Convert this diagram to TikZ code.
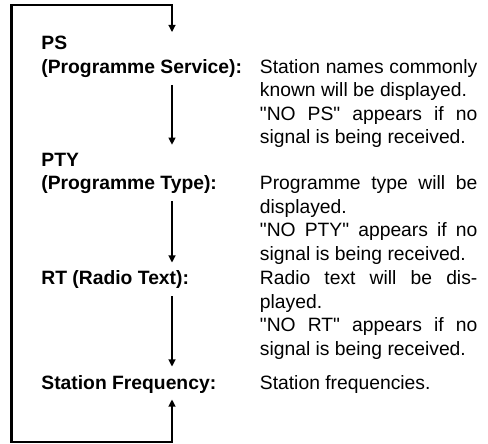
\documentclass[tikz,border=0pt]{standalone}
\usepackage{fontspec}
\setmainfont{Liberation Sans}[Ligatures=TeXOff]
\usetikzlibrary{arrows.meta}
\sloppy

\begin{document}
\begin{tikzpicture}[x=0.5pt,y=-0.5pt,
  every node/.style={inner sep=0pt, anchor=base west,
    font=\fontsize{9.65}{11.75}\selectfont},
  lbl/.style={font=\fontsize{9.65}{11.75}\selectfont\bfseries, align=left},
  desc/.style={text width=108.75pt, align=justify},
  flowtip/.tip={Triangle[width=3.4pt,length=3.6pt]},
  flow/.style={line width=1.2pt, -flowtip,
    shorten <=3.5pt, shorten >=4pt}]
\useasboundingbox (0,0) rectangle (488,444);
\coordinate (ax) at (172,0);
\coordinate (loopbl) at (11.5,442);
\coordinate (looptl) at (11.5,5);
% labels (base = last line)
\node[lbl] (pslbl)  at (41,73.5) {PS\\(Programme Service):};
\node[lbl] (ptylbl) at (41,190)  {PTY\\(Programme Type):};
\node[lbl] (rtlbl)  at (41,285)  {RT (Radio Text):};
\node[lbl] (sflbl)  at (41,389)  {Station Frequency:};
% descriptions
\node[desc] (psdesc)  at (259.5,73.5) {Station names commonly\linebreak
  known will be displayed.\par "NO PS" appears if no\linebreak
  signal is being received.};
\node[desc] (ptydesc) at (259.5,190) {Programme type will be\linebreak
  displayed.\par "NO PTY" appears if no\linebreak
  signal is being received.};
\node[desc] (rtdesc)  at (259.5,285) {Radio text will be dis-\linebreak
  played.\par "NO RT" appears if no\linebreak
  signal is being received.};
\node[desc] (sfdesc)  at (259.5,389) {Station frequencies.};
% arrows
\draw[flow] (pslbl.south -| ax) -- (ptylbl.north -| ax);
\draw[flow] (ptylbl.south -| ax) -- (rtlbl.north -| ax);
\draw[flow] (rtlbl.south -| ax) -- (sflbl.north -| ax);
\draw[flow, flowtip-flowtip, shorten <=3pt, shorten >=2pt]
  (sflbl.south -| ax) -- (ax |- loopbl) -- (loopbl) -- (looptl)
  -- (ax |- looptl) -- (pslbl.north -| ax);
\end{tikzpicture}
\end{document}
